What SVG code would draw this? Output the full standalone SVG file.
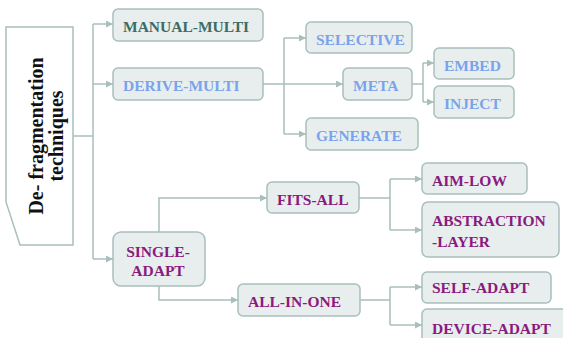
<svg xmlns="http://www.w3.org/2000/svg" width="563" height="338" viewBox="0 0 563 338">
<style>
.box{fill:#e8eeee;stroke:#a9bfbd;stroke-width:1.5}
.t{font-family:"Liberation Serif",serif;font-weight:bold;font-size:15.5px}
.dk{fill:#3d6b66}
.bl{fill:#79a4ec}
.pu{fill:#8b1a7e}
.ln{fill:none;stroke:#a9bfbd;stroke-width:1.5}
.ar{marker-end:url(#ah)}
</style>
<defs>
<marker id="ah" markerUnits="userSpaceOnUse" markerWidth="7" markerHeight="7" refX="7" refY="3.5" orient="auto">
<path d="M0,0 L7,3.5 L0,7 z" fill="#a9bfbd"/>
</marker>
</defs>
<rect width="563" height="338" fill="#ffffff"/>
<g id="connectors">
<path class="ln" d="M73,136 H93 M93,24 V259"/>
<path class="ln ar" d="M93,24 H113"/>
<path class="ln ar" d="M93,84 H113"/>
<path class="ln ar" d="M93,259 H113"/>
<path class="ln" d="M263,84 H284 M284,38 V134"/>
<path class="ln ar" d="M284,38 H306"/>
<path class="ln ar" d="M284,84 H343"/>
<path class="ln ar" d="M284,134 H306"/>
<path class="ln" d="M412,84 H423 M423,63 V102"/>
<path class="ln ar" d="M423,63 H434"/>
<path class="ln ar" d="M423,102 H434"/>
<path class="ln ar" d="M159,232 V198 H267"/>
<path class="ln ar" d="M159,286 V300 H238"/>
<path class="ln" d="M359,198 H390 M390,179 V230"/>
<path class="ln ar" d="M390,179 H422"/>
<path class="ln ar" d="M390,230 H422"/>
<path class="ln" d="M360,300 H390 M390,287 V325"/>
<path class="ln ar" d="M390,287 H422"/>
<path class="ln ar" d="M390,325 H422"/>
</g>
<g id="root">
<polygon points="6,27 73,27 73,245 20,245 6,202" fill="#ffffff" stroke="#a9bfbd" stroke-width="1.5"/>
<g transform="translate(46,136) rotate(-90)">
<text x="0" y="-3" text-anchor="middle" font-family="Liberation Serif, serif" font-weight="bold" font-size="20" fill="#111111">De- fragmentation</text>
<text x="0" y="17" text-anchor="middle" font-family="Liberation Serif, serif" font-weight="bold" font-size="20" fill="#111111">techniques</text>
</g>
</g>
<g id="manual-multi"><rect class="box" x="113" y="9" width="150" height="32" rx="5"/><text class="t dk" x="123" y="32">MANUAL-MULTI</text></g>
<g id="derive-multi"><rect class="box" x="113" y="68" width="150" height="32" rx="5"/><text class="t bl" x="123" y="91">DERIVE-MULTI</text></g>
<g id="selective"><rect class="box" x="306" y="22" width="106" height="31" rx="5"/><text class="t bl" x="316" y="45">SELECTIVE</text></g>
<g id="meta"><rect class="box" x="343" y="68" width="69" height="32" rx="5"/><text class="t bl" x="353" y="91">META</text></g>
<g id="generate"><rect class="box" x="306" y="118" width="112" height="32" rx="5"/><text class="t bl" x="316" y="141">GENERATE</text></g>
<g id="embed"><rect class="box" x="434" y="48" width="80" height="31" rx="5"/><text class="t bl" x="444" y="71">EMBED</text></g>
<g id="inject"><rect class="box" x="434" y="86" width="80" height="32" rx="5"/><text class="t bl" x="444" y="109">INJECT</text></g>
<g id="single-adapt"><rect class="box" x="113" y="232" width="92" height="54" rx="8"/><text class="t pu" x="158" y="257" text-anchor="middle">SINGLE-</text><text class="t pu" x="158" y="276" text-anchor="middle">ADAPT</text></g>
<g id="fits-all"><rect class="box" x="267" y="182" width="92" height="31" rx="5"/><text class="t pu" x="277" y="205">FITS-ALL</text></g>
<g id="all-in-one"><rect class="box" x="238" y="284" width="122" height="32" rx="5"/><text class="t pu" x="248" y="307">ALL-IN-ONE</text></g>
<g id="aim-low"><rect class="box" x="422" y="163" width="105" height="31" rx="5"/><text class="t pu" x="432" y="186">AIM-LOW</text></g>
<g id="abstraction-layer"><rect class="box" x="422" y="202" width="137" height="55" rx="6"/><text class="t pu" x="432" y="226">ABSTRACTION</text><text class="t pu" x="432" y="247">-LAYER</text></g>
<g id="self-adapt"><rect class="box" x="422" y="272" width="129" height="31" rx="5"/><text class="t pu" x="432" y="293">SELF-ADAPT</text></g>
<g id="device-adapt"><rect class="box" x="422" y="309" width="160" height="40" rx="5"/><text class="t pu" x="432" y="334">DEVICE-ADAPT</text></g>
</svg>
